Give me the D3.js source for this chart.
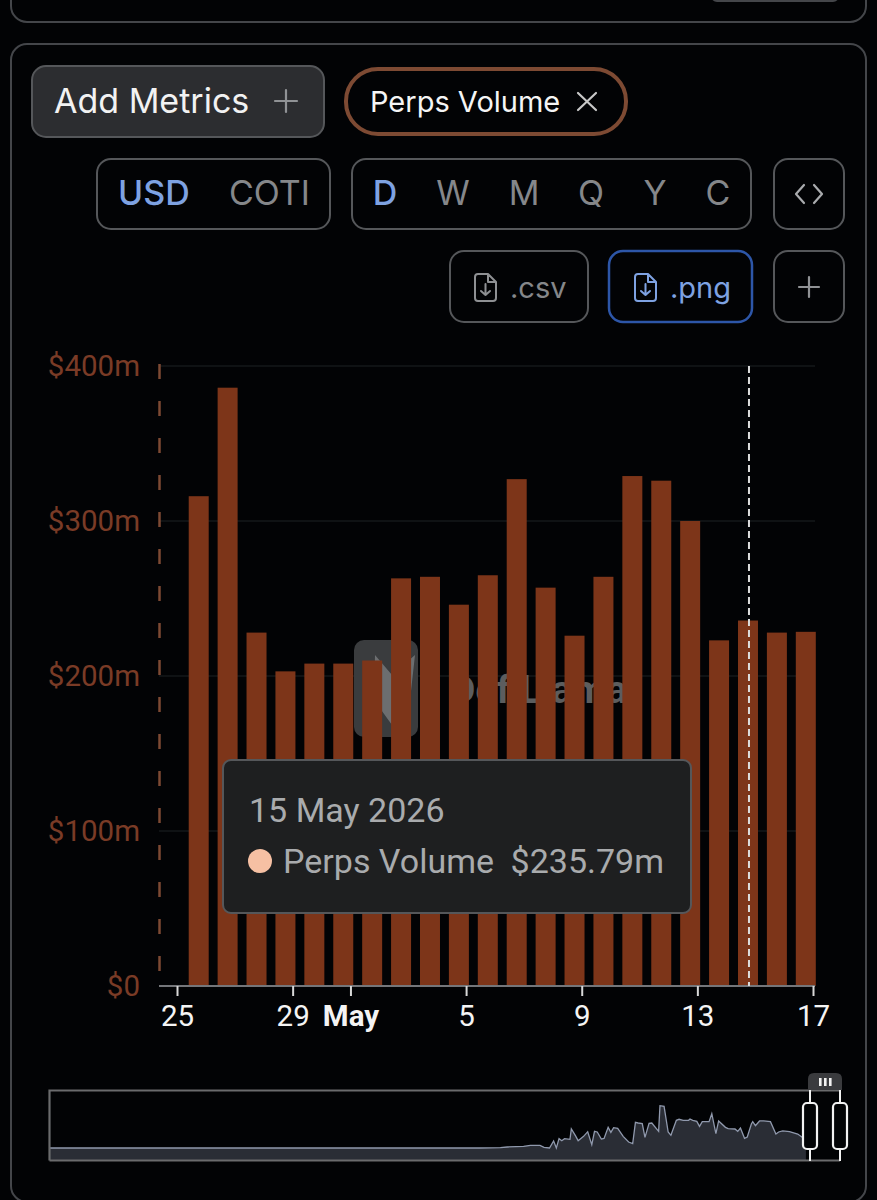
<!DOCTYPE html>
<html>
<head>
<meta charset="utf-8">
<script src="https://cdn.jsdelivr.net/npm/d3@7/dist/d3.min.js"></script>
<style>
html,body{margin:0;padding:0;background:#020305;}
svg{display:block;}
text{font-family:Inter,Roboto,sans-serif;}
.chart text{font-family:Roboto,sans-serif;}
</style>
</head>
<body>
<svg id="c" width="877" height="1200" viewBox="0 0 877 1200"></svg>
<script>
const barDates = ["2026-04-26","2026-04-27","2026-04-28","2026-04-29","2026-04-30","2026-05-01","2026-05-02","2026-05-03","2026-05-04","2026-05-05","2026-05-06","2026-05-07","2026-05-08","2026-05-09","2026-05-10","2026-05-11","2026-05-12","2026-05-13","2026-05-14","2026-05-15","2026-05-16","2026-05-17"];
const perpsVolume = [316,386,228,203,208,208,210,263,264,246,265,327,257,226,264,329,326,300,223,235.79,228,228.5];
const yTicks = [0,100,200,300,400];
const xTickDates = ["2026-04-25","2026-04-29","2026-05-01","2026-05-05","2026-05-09","2026-05-13","2026-05-17"];
const xTickLabels = ["25","29","May","5","9","13","17"];
const miniDays = [0,316,331,336,348,353,360,363,367,370,372,374,376,378,382,383,386,388,392,395,398,400,402,405,407,410,412,414,417,421,425,428,430,432,435,437,440,442,447,448,451,454,456,460,462,465,469,470,472,475,477,479,484,486,489,491,496,498,503,505,507,510,512,515,516,518,521,524,529,533,535,538,543,549,553,555];
const miniVolume = [0,0,5,14,23,37,37,9,0,97,0,129,101,129,120,262,170,101,161,225,46,230,221,124,133,285,216,281,271,161,83,60,354,345,336,147,340,345,230,584,575,221,175,382,396,382,382,400,382,368,299,363,363,474,198,373,285,267,262,230,276,133,152,331,363,308,373,373,363,193,221,235,225,193,138,276];
const periods = ["D","W","M","Q","Y","C"];
const currencies = ["USD","COTI"];

const svg = d3.select("#c");
const parse = d3.utcParse("%Y-%m-%d");
const fmt = v => v === 0 ? "$0" : "$" + v + "m";
const rust = "#7d3519", rustText = "#7a3b26", rustLine = "#7d4a33";
const border = "#55575a", blue = "#7ea2e2", muted = "#85878a";

function box(x,y,w,h,r,stroke,fill,sw){
  svg.append("rect").attr("x",x).attr("y",y).attr("width",w).attr("height",h).attr("rx",r)
    .attr("fill",fill||"none").attr("stroke",stroke).attr("stroke-width",sw||2);
}
function label(x,y,t,size,color,weight,anchor,parent){
  return (parent||svg).append("text").attr("x",x).attr("y",y).text(t).attr("font-size",size)
    .attr("fill",color).attr("font-weight",weight||400).attr("text-anchor",anchor||"start");
}
function path(d,stroke,sw){
  svg.append("path").attr("d",d).attr("fill","none").attr("stroke",stroke).attr("stroke-width",sw||2.2)
    .attr("stroke-linecap","round").attr("stroke-linejoin","round");
}

// cards
box(11,-40,855,62,16,"#44464a");
box(712,-20,126,21,5,"#44464a");
box(11,44,855,1158,16,"#44464a");

// top controls
box(32,66,292,71,14,border,"#2c2d30");
label(54,113,"Add Metrics",34,"#f2f2f2");
path("M286 90V112M275 101H297","#909295");
box(346,69,280,65,32,rustLine,"none",4);
label(370,112,"Perps Volume",29,"#f5f5f5");
path("M578 93L596 110M596 93L578 110","#c8c8c8");

box(97,159,233,70,14,border);
label(118,205,currencies[0],34,blue,500);
label(229,205,currencies[1],34,muted);
box(352,159,399,70,14,border);
const periodCentres = [385,453,524,591,655,718];
periods.forEach((p,i)=>label(periodCentres[i],205,p,34,i===0?blue:muted,i===0?500:400,"middle"));
box(774,159,70,70,14,border);
path("M804 185L796 194L804 203M814 185L822 194L814 203","#a9abae");

box(450,251,138,71,14,border);
box(609,251,143,71,14,"#2d56a8",null,2.5);
box(774,251,70,71,14,border);
path("M809 277V297M799 287H819","#909295");
function fileIcon(cx,color){
  const x=cx-10,y=274;
  path(`M${x+3} ${y}H${x+13}L${x+21} ${y+8}V${y+24}Q${x+21} ${y+27} ${x+18} ${y+27}H${x+3}Q${x} ${y+27} ${x} ${y+24}V${y+3}Q${x} ${y} ${x+3} ${y}ZM${x+13} ${y}V${y+8}H${x+21}M${x+10.5} ${y+10}V${y+21}M${x+6} ${y+17}L${x+10.5} ${y+21}L${x+15} ${y+17}`,color,2);
}
fileIcon(485,"#8e9093");
label(510,298,".csv",29,muted);
fileIcon(645,blue);
label(670,298,".png",29,blue);

// chart
const x = d3.scaleUtc().domain([parse("2026-04-25"),parse("2026-05-17")]).range([177,813]);
const y = d3.scaleLinear().domain([0,400]).range([986,366]);
const barOffset = -7.2, barWidth = 20;

const g = svg.append("g").attr("class","chart");

// grid lines
g.append("g").selectAll("line").data(yTicks.slice(1)).join("line")
  .attr("x1",159).attr("x2",815).attr("y1",d=>y(d)).attr("y2",d=>y(d))
  .attr("stroke","#0f1214").attr("stroke-width",2);

// watermark
const wm = g.append("g");
wm.append("rect").attr("x",354).attr("y",640).attr("width",64).attr("height",97).attr("rx",10).attr("fill","#3a3c3e");
wm.append("path").attr("d","M375 655L392 675L415 655L410 700L392 725L374 700Z").attr("fill","#6c6e70");
label(450,703,"DefiLlama",39,"#5c5d5e",700,"start",wm);

// bars
g.append("g").selectAll("rect").data(perpsVolume).join("rect")
  .attr("x",(d,i)=>x(parse(barDates[i]))+barOffset-barWidth/2)
  .attr("y",d=>y(d)).attr("width",barWidth).attr("height",d=>y(0)-y(d)).attr("fill",rust);

// y axis
const yAxis = g.append("g").attr("transform","translate(140,0)")
  .call(d3.axisLeft(y).tickValues(yTicks).tickFormat(fmt).tickSize(0).tickPadding(0));
yAxis.select(".domain").remove();
yAxis.selectAll("text").attr("font-size",29.5).attr("fill",rustText).attr("font-family","Roboto,sans-serif");
g.append("line").attr("x1",159.5).attr("x2",159.5).attr("y1",y(400)-2).attr("y2",y(0))
  .attr("stroke",rustLine).attr("stroke-width",2.5).attr("stroke-dasharray","15 22");

// x axis
const xAxis = g.append("g").attr("transform","translate(0,986)")
  .call(d3.axisBottom(x).tickValues(xTickDates.map(parse)).tickSize(10).tickPadding(9)
    .tickFormat((d,i)=>xTickLabels[i]));
xAxis.select(".domain").attr("d","M159 0H815").attr("stroke","#74767a").attr("stroke-width",2);
xAxis.selectAll(".tick line").attr("stroke","#d8d8d8").attr("stroke-width",2);
xAxis.selectAll("text").attr("font-size",29.5).attr("fill","#f4f4f4").attr("font-family","Roboto,sans-serif")
  .attr("font-weight",(d,i)=>xTickLabels[i]==="May"?700:400);

// cursor
const hoverIndex = barDates.indexOf("2026-05-15");
const cursorX = x(parse(barDates[hoverIndex]))+barOffset+1;
g.append("line").attr("x1",cursorX).attr("x2",cursorX).attr("y1",y(400)).attr("y2",y(0))
  .attr("stroke","#dcdcdc").attr("stroke-width",2).attr("stroke-dasharray","7 4");

// tooltip
g.append("rect").attr("x",223).attr("y",760).attr("width",468).attr("height",153).attr("rx",8)
  .attr("fill","#1e1f20").attr("stroke","#55575a").attr("stroke-width",2);
label(249,822,"15 May 2026",34,"#a9abad",400,"start",g);
g.append("circle").attr("cx",260).attr("cy",861).attr("r",12).attr("fill","#f6c0a3");
label(283,873,"Perps Volume",34,"#a9abad",400,"start",g);
label(664,873,"$"+perpsVolume[hoverIndex].toFixed(2)+"m",34,"#a9abad",400,"end",g);

// minimap
const mx = d3.scaleLinear().domain([0,580]).range([49,840]);
const my = d3.scaleLinear().domain([0,600]).range([1148,1104.5]);
const m = svg.append("g");
m.append("path").datum(miniVolume)
  .attr("d",d3.area().x((d,i)=>mx(miniDays[i])).y0(1160).y1(d=>my(d))).attr("fill","#2a2d35");
m.append("path").datum(miniVolume)
  .attr("d",d3.line().x((d,i)=>mx(miniDays[i])).y(d=>my(d)))
  .attr("fill","none").attr("stroke","#9099ad").attr("stroke-width",1.3);
m.append("path").attr("d","M49.5 1160.5V1090.5H840M49.5 1160.5H840").attr("fill","none").attr("stroke","#6a6b6d").attr("stroke-width",2.2);
m.append("path").attr("d","M808 1090V1079Q808 1073 814 1073H836Q842 1073 842 1079V1090Z").attr("fill","#3a3b3e");
[820,825,830].forEach(v=>m.append("rect").attr("x",v-1).attr("y",1078).attr("width",2.6).attr("height",8).attr("fill","#f2f2f2"));
[810,840].forEach(v=>{
  m.append("line").attr("x1",v).attr("x2",v).attr("y1",1090).attr("y2",1161).attr("stroke","#f2f2f2").attr("stroke-width",2);
  m.append("rect").attr("x",v-7).attr("y",1103).attr("width",14).attr("height",46).attr("rx",4)
    .attr("fill","#020305").attr("stroke","#f2f2f2").attr("stroke-width",2.2);
});
</script>
</body>
</html>
